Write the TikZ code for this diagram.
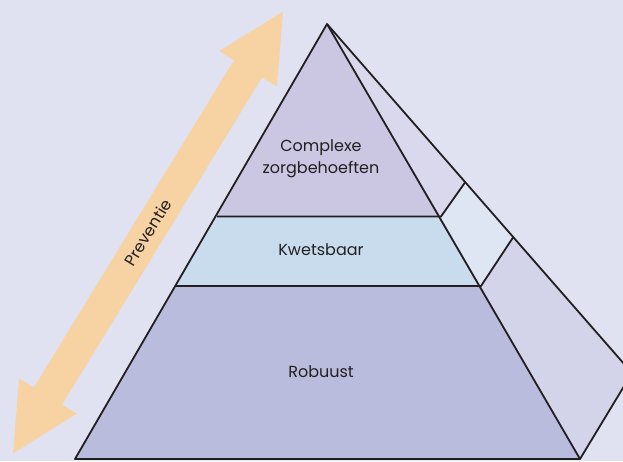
\documentclass[tikz,border=0pt]{standalone}
\usepackage{fontspec}
\setmainfont{Poppins}
\usetikzlibrary{arrows.meta}

\definecolor{bgcol}{HTML}{E0E1F1}
\definecolor{topcol}{HTML}{CBC7E3}
\definecolor{midcol}{HTML}{C9DCEE}
\definecolor{botcol}{HTML}{BABCDD}
\definecolor{sidetop}{HTML}{DAD8EC}
\definecolor{sidemid}{HTML}{DEE6F4}
\definecolor{sidebot}{HTML}{D3D3E9}
\definecolor{arrowcol}{HTML}{F7D3A4}
\definecolor{linecol}{HTML}{231F20}

\begin{document}
\begin{tikzpicture}[x=1pt,y=-1pt,
    edgeline/.style={draw=linecol,line width=1.8pt,line join=round},
    layer/.style={font=\fontsize{16}{22}\selectfont,text=linecol,align=center}]
    \useasboundingbox (0,0) rectangle (623,461);
    \clip (0,0) rectangle (623,461);
    \fill[bgcol] (0,0) rectangle (623,461);

    \coordinate (apex) at (327,24);
    \coordinate (base_l) at (75,459);
    \coordinate (base_r) at (580,459);
    \coordinate (back) at (632,373);
    \coordinate (l_1) at (217,216.5);
    \coordinate (r_1) at (441,216.5);
    \coordinate (l_2) at (176,286);
    \coordinate (r_2) at (481,286);
    \coordinate (s_1) at (465,182.5);
    \coordinate (s_2) at (513,237.5);

    \fill[topcol] (apex) -- (l_1) -- (r_1) -- cycle;
    \fill[midcol] (l_1) -- (r_1) -- (r_2) -- (l_2) -- cycle;
    \fill[botcol] (l_2) -- (r_2) -- (base_r) -- (base_l) -- cycle;
    \fill[sidetop] (apex) -- (r_1) -- (s_1) -- cycle;
    \fill[sidemid] (r_1) -- (s_1) -- (s_2) -- (r_2) -- cycle;
    \fill[sidebot] (r_2) -- (s_2) -- (back) -- (base_r) -- cycle;

    \path[edgeline] (apex) -- (base_l) -- (base_r) -- cycle;
    \path[edgeline] (apex) -- (back) -- (base_r);
    \path[edgeline] (l_1) -- (r_1) -- (s_1);
    \path[edgeline] (l_2) -- (r_2) -- (s_2);

    \node[layer] (complex) at (321,159) {Complexe\\zorgbehoeften};
    \node[layer] (kwetsbaar) at (321,250) {Kwetsbaar};
    \node[layer] (robuust) at (321,372) {Robuust};

    \coordinate (prev_lo) at (12,455);
    \coordinate (prev_hi) at (284,10);
    \draw[arrowcol,line width=33pt,
        {Triangle[length=69pt,width=62pt]}-{Triangle[length=69pt,width=62pt]}]
        (prev_lo) -- node[sloped,layer,text=linecol] (preventie) {Preventie} (prev_hi);
\end{tikzpicture}
\end{document}
